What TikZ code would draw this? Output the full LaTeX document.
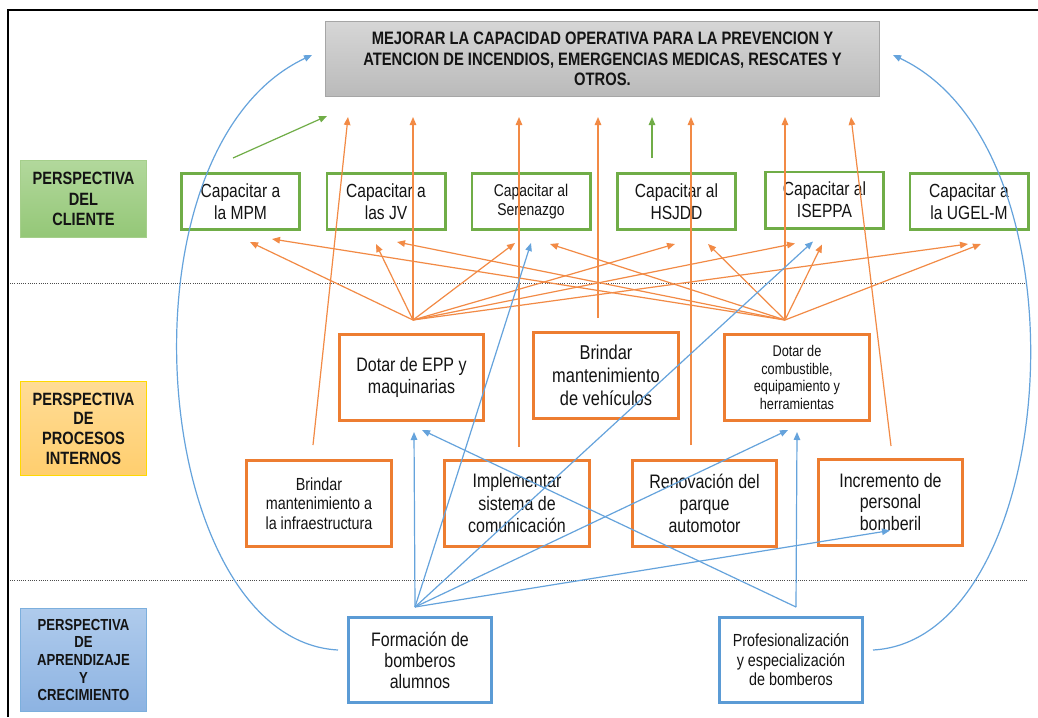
\documentclass[tikz,border=0pt]{standalone}
\usepackage{fontspec}
\setmainfont{Liberation Sans}[FakeStretch=0.82]
\usetikzlibrary{arrows.meta,calc}
\definecolor{cgreen}{HTML}{70AD47}
\definecolor{corange}{HTML}{ED7D31}
\definecolor{cblue}{HTML}{5B9BD5}
\definecolor{lorange}{HTML}{F28A45}
\definecolor{lblue}{HTML}{65A3DC}
\definecolor{lgreen}{HTML}{70AD47}
\definecolor{pgtop}{HTML}{B2D89C}
\definecolor{pgbot}{HTML}{94C777}
\definecolor{potop}{HTML}{FFDC96}
\definecolor{pobot}{HTML}{FFCE6E}
\definecolor{pbtop}{HTML}{AFCBEC}
\definecolor{pbbot}{HTML}{8DB3E2}
\begin{document}
\begin{tikzpicture}[x=1pt,y=-1pt,
 every node/.style={align=center, text=black!92, inner sep=0pt},
 clientbox/.style={draw=cgreen, line width=2.8pt, minimum width=118.2pt, minimum height=56.2pt, font=\fontsize{19}{22}\selectfont},
 procbox/.style={draw=corange, line width=3pt, minimum width=144.6pt, minimum height=86pt, font=\fontsize{19.5}{22.5}\selectfont},
 learnbox/.style={draw=cblue, line width=3pt, minimum width=143pt, minimum height=85pt, font=\fontsize{19.5}{21}\selectfont},
 persp/.style={minimum width=126pt, line width=1.3pt, font=\bfseries\fontsize{17.8}{20.7}\selectfont},
 oarr/.style={draw=lorange, line width=1.2pt, -{Triangle[length=8pt,width=6.5pt]}},
 barr/.style={draw=lblue, line width=1.2pt, -{Triangle[length=8pt,width=6.5pt]}},
 garr/.style={draw=lgreen, line width=1.2pt, -{Triangle[length=8pt,width=6.5pt]}},
 dotline/.style={draw=black!70, line width=0.9pt, dash pattern=on 1pt off 1.2pt},
]
\useasboundingbox (0,0) rectangle (1038,717);
\fill[white] (0,0) rectangle (1038,717);
% frame
\draw[line width=2.6pt] (8,717) -- (8,10) -- (1038,10);
% dotted separators
\coordinate (d1a) at (10,283); \coordinate (d1b) at (1028,283);
\coordinate (d2a) at (10,580); \coordinate (d2b) at (1028,580);
\draw[dotline] (d1a) -- (d1b);
\draw[dotline] (d2a) -- (d2b);

% top objective
\node[top color=black!16, bottom color=black!27, draw=black!35, line width=1pt,
      minimum width=554pt, minimum height=75pt,
      font=\bfseries\fontsize{18}{20.5}\selectfont] (goal) at (602.5,59)
  {MEJORAR LA CAPACIDAD OPERATIVA PARA LA PREVENCION Y\\ATENCION DE INCENDIOS, EMERGENCIAS MEDICAS, RESCATES Y\\OTROS.};

% perspective labels
\node[persp, top color=pgtop, bottom color=pgbot, draw=pgtop!80!cgreen, minimum height=77pt] (pc) at (83.5,199) {PERSPECTIVA\\DEL\\CLIENTE};
\node[persp, top color=potop, bottom color=pobot, draw=orange!30!yellow, minimum height=94pt, font=\bfseries\fontsize{17.8}{19.7}\selectfont] (pp) at (83.5,428.5) {PERSPECTIVA\\DE\\PROCESOS\\INTERNOS};
\node[persp, top color=pbtop, bottom color=pbbot, draw=cblue!80, minimum height=103pt, font=\bfseries\fontsize{16}{17.7}\selectfont] (pa) at (83.5,660) {PERSPECTIVA\\DE\\APRENDIZAJE\\Y\\CRECIMIENTO};

% client boxes
\node[clientbox] (mpm) at (240.5,201.5) {Capacitar a\\la MPM};
\node[clientbox] (jv) at (386,201.5) {Capacitar a\\las JV};
\node[clientbox, font=\fontsize{17}{19}\selectfont] (ser) at (531,201.5) {Capacitar al\\Serenazgo};
\node[clientbox] (hsj) at (676.5,201.5) {Capacitar al\\HSJDD};
\node[clientbox] (ise) at (824.5,200) {Capacitar al\\ISEPPA};
\node[clientbox] (ugel) at (969,201.5) {Capacitar a\\la UGEL-M};

% internal process boxes
\node[procbox] (epp) at (411.5,377.5) {Dotar de EPP y\\maquinarias};
\node[procbox, font=\fontsize{20}{23}\selectfont] (veh) at (606,375.5) {Brindar\\mantenimiento\\de vehículos};
\node[procbox, font=\fontsize{15.5}{17.5}\selectfont] (comb) at (797,377.5) {Dotar de\\combustible,\\equipamiento y\\herramientas};
\node[procbox, font=\fontsize{17.5}{19.5}\selectfont] (infra) at (319,503.5) {Brindar\\mantenimiento a\\la infraestructura};
\node[procbox] (com) at (517,503.5) {Implementar\\sistema de\\comunicación};
\node[procbox, font=\fontsize{19.5}{21.7}\selectfont] (ren) at (704.5,503.5) {Renovación del\\parque\\automotor};
\node[procbox, font=\fontsize{19.5}{21.5}\selectfont] (inc) at (890.5,502) {Incremento de\\personal\\bomberil};

% learning boxes
\node[learnbox] (form) at (420,660) {Formación de\\bomberos\\alumnos};
\node[learnbox, font=\fontsize{17.5}{19.5}\selectfont] (prof) at (791,660) {Profesionalización\\y especialización\\de bomberos};

% hubs and free ends
\coordinate (hubA) at (413,320);
\coordinate (hubB) at (598,318);
\coordinate (hubC) at (785,320);
\coordinate (hubH) at (415,607);
\coordinate (hubI) at (796,607);
\coordinate (sInfra) at (313,445);
\coordinate (sCom) at (519,447);
\coordinate (sRen) at (691,445);
\coordinate (sInc) at (891,446);

% tips at the goal
\coordinate (gInfra) at (348,117);
\coordinate (gA) at (413,117);
\coordinate (gCom) at (519,117);
\coordinate (gB) at (598,117);
\coordinate (gRen) at (691,117);
\coordinate (gC) at (785,117);
\coordinate (gInc) at (851,117);

% green arrows
\coordinate (gs1) at (233,158);
\coordinate (gt1) at (327,116);
\coordinate (gs2) at (652,158);
\coordinate (gt2) at (652,117);
\draw[garr] (gs1) -- (gt1);
\draw[garr] (gs2) -- (gt2);

% orange arrows to the goal
\draw[oarr] (sInfra) -- (gInfra);
\draw[oarr] (hubA) -- (gA);
\draw[oarr] (sCom) -- (gCom);
\draw[oarr] (hubB) -- (gB);
\draw[oarr] (sRen) -- (gRen);
\draw[oarr] (hubC) -- (gC);
\draw[oarr] (sInc) -- (gInc);

% orange fans to client boxes
\draw[oarr] (hubA) -- ($(mpm.south)+(9.5,11)$);
\draw[oarr] (hubA) -- ($(jv.south)+(-10,13)$);
\draw[oarr] (hubA) -- ($(ser.south)+(-16,12)$);
\draw[oarr] (hubA) -- ($(hsj.south)+(-1.5,13)$);
\draw[oarr] (hubA) -- ($(ise.south)+(-29.5,14)$);
\draw[oarr] (hubA) -- ($(ugel.south)+(-1,13)$);
\draw[oarr] (hubC) -- ($(mpm.south)+(31.5,8)$);
\draw[oarr] (hubC) -- ($(jv.south)+(11,11)$);
\draw[oarr] (hubC) -- ($(ser.south)+(19,13)$);
\draw[oarr] (hubC) -- ($(hsj.south)+(31.5,13)$);
\draw[oarr] (hubC) -- ($(ise.south)+(-2.5,15)$);
\draw[oarr] (hubC) -- ($(ugel.south)+(12,13)$);

% blue arrows
\draw[barr] (hubH) -- ($(epp.south)+(2.5,10)$);
\draw[barr] (hubH) -- ($(ser.south)+(0,12)$);
\draw[barr] (hubH) -- ($(ise.south)+(-11.5,12)$);
\draw[barr] (hubH) -- ($(comb.south)+(-9,8)$);
\draw[barr] (hubH) -- ($(inc.south)+(-0.5,-16)$);
\draw[barr] (hubI) -- ($(comb.south)+(0,10)$);
\draw[barr] (hubI) -- ($(epp.south)+(10.5,8)$);

% curved blue arrows
\coordinate (cL) at (338,650);
\coordinate (tL) at (312,55);
\coordinate (cR) at (873,650);
\coordinate (tR) at (893,55);
\draw[barr] (cL) .. controls (150,640) and (110,150) .. (tL);
\draw[barr] (cR) .. controls (1060,640) and (1095,150) .. (tR);
\end{tikzpicture}
\end{document}
